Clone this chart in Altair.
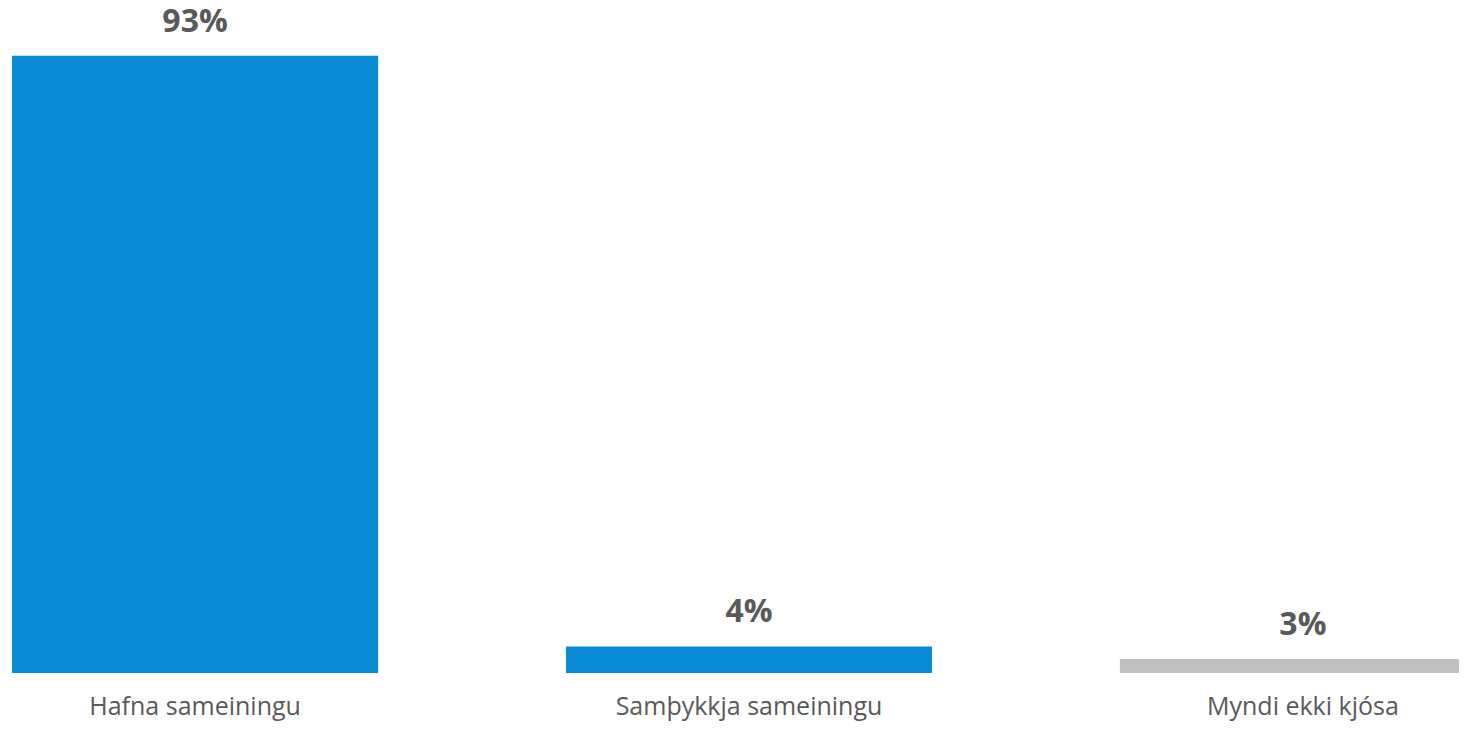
import altair as alt
import pandas as pd

categories = ["Hafna sameiningu", "Samþykkja sameiningu", "Myndi ekki kjósa"]
values = [93, 4, 2.1]
value_labels = ["93%", "4%", "3%"]
bar_colors = ["#0A8BD6", "#0A8BD6", "#BFBFBF"]

df = pd.DataFrame({"cat": categories, "val": values, "lab": value_labels, "color": bar_colors})

x = alt.X(
    "cat:N",
    sort=categories,
    scale=alt.Scale(range=[4, 1478], paddingInner=0.339, paddingOuter=0),
    axis=alt.Axis(
        title=None, ticks=False, tickSize=0, domain=False, labelAngle=0,
        labelFont="Open Sans", labelFontSize=25, labelColor="#595959",
        labelBaseline="alphabetic", labelPadding=41, grid=False,
        labelLimit=600, labelOverlap=False,
    ),
)
y = alt.Y("val:Q", scale=alt.Scale(domain=[0, 100.2]), axis=None)

bars = alt.Chart(df).mark_bar(clip=True).encode(
    x=x, y=y, color=alt.Color("color:N", scale=None)
)
text = alt.Chart(df).mark_text(
    font="Open Sans", fontSize=32, fontWeight="bold", color="#595959",
    baseline="alphabetic", dy=-24,
).encode(x=x, y=y, text="lab:N")

chart = (bars + text).properties(
    width=1451, height=665,
    padding={"left": 0, "top": 0, "right": 0, "bottom": 49},
    autosize=alt.AutoSizeParams(type="none"),
).configure_view(stroke=None)
chart.save("out.html", embed_options={"renderer": "svg", "actions": False})
